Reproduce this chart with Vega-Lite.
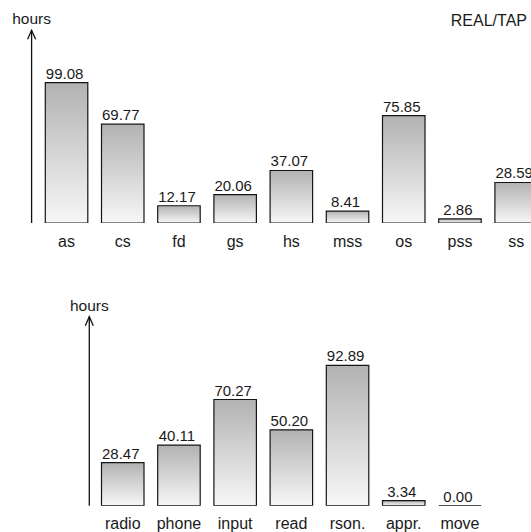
{
  "$schema": "https://vega.github.io/schema/vega-lite/v6.json",
  "padding": 0,
  "background": "white",
  "bounds": "flush",
  "spacing": 67,
  "config": {
    "view": {"stroke": null},
    "font": "Liberation Sans",
    "axis": {"labelFont": "Liberation Sans", "titleFont": "Liberation Sans"}
  },
  "datasets": {
    "realtap": [
      {"category": "as", "hours": 99.08},
      {"category": "cs", "hours": 69.77},
      {"category": "fd", "hours": 12.17},
      {"category": "gs", "hours": 20.06},
      {"category": "hs", "hours": 37.07},
      {"category": "mss", "hours": 8.41},
      {"category": "os", "hours": 75.85},
      {"category": "pss", "hours": 2.86},
      {"category": "ss", "hours": 28.59}
    ],
    "realtapAxis": [
      {"category": " ", "hours": 136, "label": "hours"}
    ],
    "realtapTitle": [
      {"category": "ss", "hours": 136, "label": "REAL/TAP"}
    ],
    "activities": [
      {"category": "radio", "hours": 28.47},
      {"category": "phone", "hours": 40.11},
      {"category": "input", "hours": 70.27},
      {"category": "read", "hours": 50.20},
      {"category": "rson.", "hours": 92.89},
      {"category": "appr.", "hours": 3.34},
      {"category": "move", "hours": 0.00}
    ],
    "activitiesAxis": [
      {"category": "  ", "hours": 125.1, "label": "hours"}
    ]
  },
  "vconcat": [
    {
      "width": 531,
      "height": 223,
      "layer": [
        {
          "data": {"name": "realtap"},
          "mark": {
            "type": "bar",
            "clip": true,
            "stroke": "#151515",
            "strokeWidth": 1.2,
            "fill": {
              "gradient": "linear", "x1": 0, "y1": 0, "x2": 0, "y2": 1,
              "stops": [{"offset": 0, "color": "#b2b2b2"}, {"offset": 1, "color": "#f7f7f7"}]
            }
          },
          "encoding": {
            "x": {
              "field": "category", "type": "nominal", "sort": null,
              "scale": {"domain": [" ", "as", "cs", "fd", "gs", "hs", "mss", "os", "pss", "ss"], "range": [-10.9, 537.4], "paddingInner": 0.2438, "paddingOuter": 0},
              "axis": {"title": null, "domain": false, "ticks": false, "tickSize": 0, "labelPadding": 10, "labelFontSize": 16, "labelColor": "#1a1a1a", "labelAngle": 0}
            },
            "y": {"field": "hours", "type": "quantitative", "scale": {"domain": [0, 157.4], "nice": false, "zero": true}, "axis": null}
          }
        },
        {
          "data": {"name": "realtap"},
          "mark": {"type": "text", "clip": true, "baseline": "alphabetic", "align": "center", "dy": -4, "dx": -2, "fontSize": 15, "color": "#1a1a1a"},
          "encoding": {
            "x": {"field": "category", "type": "nominal", "sort": null},
            "y": {"field": "hours", "type": "quantitative"},
            "text": {"field": "hours", "type": "quantitative", "format": ".2f"}
          }
        },
        {
          "data": {"name": "realtapAxis"},
          "mark": {"type": "rule", "color": "#111", "strokeWidth": 1.3},
          "encoding": {
            "x": {"field": "category", "type": "nominal", "bandPosition": 1},
            "y": {"field": "hours", "type": "quantitative"},
            "y2": {"datum": 0}
          }
        },
        {
          "data": {"name": "realtapAxis"},
          "mark": {"type": "point", "shape": "M-0.8,1.8L0,0L0.8,1.8", "filled": false, "size": 100, "stroke": "#111", "strokeWidth": 1.3, "opacity": 1},
          "encoding": {
            "x": {"field": "category", "type": "nominal", "bandPosition": 1},
            "y": {"field": "hours", "type": "quantitative"}
          }
        },
        {
          "data": {"name": "realtapAxis"},
          "mark": {"type": "text", "baseline": "alphabetic", "align": "center", "dy": -6, "fontSize": 15.5, "color": "#1a1a1a"},
          "encoding": {
            "x": {"field": "category", "type": "nominal", "bandPosition": 1},
            "y": {"field": "hours", "type": "quantitative"},
            "text": {"field": "label"}
          }
        },
        {
          "data": {"name": "realtapTitle"},
          "mark": {"type": "text", "baseline": "alphabetic", "align": "right", "dy": -4, "fontSize": 16, "color": "#1a1a1a"},
          "encoding": {
            "x": {"field": "category", "type": "nominal", "bandPosition": 0.755},
            "y": {"field": "hours", "type": "quantitative"},
            "text": {"field": "label"}
          }
        }
      ]
    },
    {
      "width": 531,
      "height": 215.7,
      "layer": [
        {
          "data": {"name": "activities"},
          "mark": {
            "type": "bar",
            "clip": true,
            "stroke": "#151515",
            "strokeWidth": 1.2,
            "fill": {
              "gradient": "linear", "x1": 0, "y1": 0, "x2": 0, "y2": 1,
              "stops": [{"offset": 0, "color": "#b2b2b2"}, {"offset": 1, "color": "#f7f7f7"}]
            }
          },
          "encoding": {
            "x": {
              "field": "category", "type": "nominal", "sort": null,
              "scale": {"domain": [" ", "  ", "radio", "phone", "input", "read", "rson.", "appr.", "move"], "range": [-10.9, 481.2], "paddingInner": 0.2438, "paddingOuter": 0},
              "axis": {"title": null, "domain": false, "ticks": false, "tickSize": 0, "labelPadding": 10, "labelFontSize": 16, "labelColor": "#1a1a1a", "labelAngle": 0}
            },
            "y": {"field": "hours", "type": "quantitative", "scale": {"domain": [0, 142.75], "nice": false, "zero": true}, "axis": null}
          }
        },
        {
          "data": {"name": "activities"},
          "mark": {"type": "text", "clip": true, "baseline": "alphabetic", "align": "center", "dy": -4, "dx": -2, "fontSize": 15, "color": "#1a1a1a"},
          "encoding": {
            "x": {"field": "category", "type": "nominal", "sort": null},
            "y": {"field": "hours", "type": "quantitative"},
            "text": {"field": "hours", "type": "quantitative", "format": ".2f"}
          }
        },
        {
          "data": {"name": "activitiesAxis"},
          "mark": {"type": "rule", "color": "#111", "strokeWidth": 1.3},
          "encoding": {
            "x": {"field": "category", "type": "nominal", "bandPosition": 1.035},
            "y": {"field": "hours", "type": "quantitative"},
            "y2": {"datum": 0}
          }
        },
        {
          "data": {"name": "activitiesAxis"},
          "mark": {"type": "point", "shape": "M-0.8,1.8L0,0L0.8,1.8", "filled": false, "size": 100, "stroke": "#111", "strokeWidth": 1.3, "opacity": 1},
          "encoding": {
            "x": {"field": "category", "type": "nominal", "bandPosition": 1.035},
            "y": {"field": "hours", "type": "quantitative"}
          }
        },
        {
          "data": {"name": "activitiesAxis"},
          "mark": {"type": "text", "baseline": "alphabetic", "align": "center", "dy": -6, "fontSize": 15.5, "color": "#1a1a1a"},
          "encoding": {
            "x": {"field": "category", "type": "nominal", "bandPosition": 1.035},
            "y": {"field": "hours", "type": "quantitative"},
            "text": {"field": "label"}
          }
        }
      ]
    }
  ]
}
